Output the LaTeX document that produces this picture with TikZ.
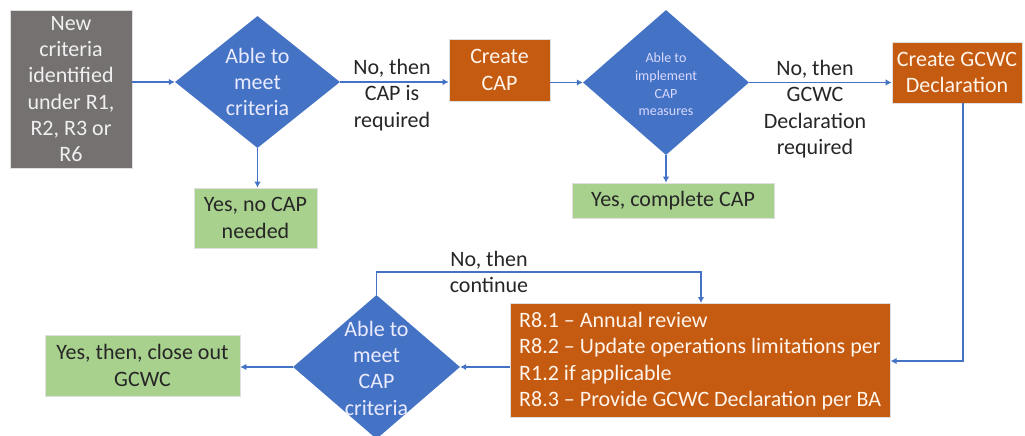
\documentclass[tikz,border=0pt]{standalone}
\usepackage{fontspec}
\setmainfont{Carlito}
\usetikzlibrary{shapes.geometric,arrows.meta}
\definecolor{cgray}{HTML}{767171}
\definecolor{cblue}{HTML}{4472C4}
\definecolor{corange}{HTML}{C55A11}
\definecolor{cgreen}{HTML}{A9D18E}
\definecolor{ctext}{HTML}{262626}
\tikzset{
  big/.style={font=\fontsize{22}{26.3}\selectfont},
  box/.style={rectangle, inner sep=0pt, draw=white!75!gray, line width=0.6pt, align=center, big},
  graybox/.style={box, fill=cgray, text=white!88!gray},
  orangebox/.style={box, fill=corange, text=white!92!orange},
  greenbox/.style={box, fill=cgreen, text=ctext},
  dia/.style={diamond, fill=cblue, inner sep=0pt, draw=none},
  diatext/.style={align=center, text=white!92!blue, inner sep=0pt, big},
  lbl/.style={align=center, text=ctext, inner sep=0pt, big},
  conn/.style={draw=cblue, line width=1.8pt, -{Latex[length=6pt,width=6.5pt]}}
}
\begin{document}
\begin{tikzpicture}[x=1pt,y=-1pt]
\useasboundingbox (0,0) rectangle (1025,436);
% top row
\node[graybox, minimum width=122pt, minimum height=158pt] (new) at (71,89) {New\\criteria\\identified\\under R1,\\R2, R3 or\\R6};
\node[dia, minimum width=165pt, minimum height=132pt] (d1) at (257.5,82) {};
\node[diatext] (d1t) at (d1) {Able to\\meet\\criteria};
\node[greenbox, minimum width=123pt, minimum height=60pt] (g1) at (255.5,218) {Yes, no CAP\\needed};
\node[orangebox, minimum width=101pt, minimum height=62pt] (cap) at (499.5,70) {Create\\CAP};
\node[dia, minimum width=166pt, minimum height=145pt] (d2) at (666,82.5) {};
\node[diatext, font=\fontsize{14}{17.6}\selectfont, text=white!85!blue] (d2t) at (666,84.5) {Able to\\implement\\CAP\\measures};
\node[greenbox, minimum width=202pt, minimum height=35pt] (g2) at (673,200.5) {Yes, complete CAP};
\node[orangebox, minimum width=130pt, minimum height=61pt] (gcwc) at (957,72.5) {Create GCWC\\Declaration};
\node[lbl] (l1) at (392,95) {No, then\\CAP is\\required};
\node[lbl] (l2) at (815,109) {No, then\\GCWC\\Declaration\\required};
% bottom row
\node[orangebox, minimum width=380pt, minimum height=114pt, anchor=north west] (r8) at (510,303) {};
\node[align=left, inner sep=0pt, big, text=white!92!orange, anchor=west] (r8t) at (519,361) {R8.1 -- Annual review\\R8.2 -- Update operations limitations per\\R1.2 if applicable\\R8.3 -- Provide GCWC Declaration per BA};
\node[dia, minimum width=167pt, minimum height=144pt] (d3) at (376.5,367) {};
\node[diatext] (d3t) at (376.5,368) {Able to\\meet\\CAP\\criteria};
\node[greenbox, minimum width=195pt, minimum height=61pt] (g3) at (142.5,365.5) {Yes, then, close out\\GCWC};
\node[lbl] (l3) at (489,272) {No, then\\continue};
\coordinate (c1) at (963,361);
\coordinate (c2) at (701,272);
% connectors
\draw[conn] (new.east |- d1.west) -- (d1.west);
\draw[conn] (d1.south) -- (d1.south |- g1.north);
\draw[conn] (d1.east) -- (d1.east -| cap.west);
\draw[conn] (cap.east |- d2.west) -- (d2.west);
\draw[conn] (d2.south) -- (d2.south |- g2.north);
\draw[conn] (d2.east) -- (d2.east -| gcwc.west);
\draw[conn] (gcwc.south -| c1) -- (c1) -- (c1 -| r8.east);
\draw[conn] (r8.west |- d3.east) -- (d3.east);
\draw[conn] (d3.west) -- (d3.west -| g3.east);
\draw[conn] (d3.north) |- (c2) -- (c2 |- r8.north);
\end{tikzpicture}
\end{document}
